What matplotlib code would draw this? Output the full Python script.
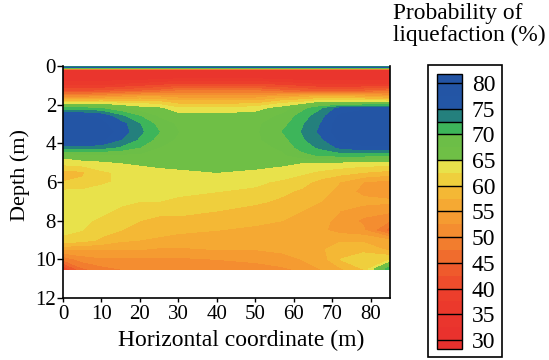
import numpy as np
import matplotlib
matplotlib.use("Agg")
import matplotlib.pyplot as plt
from matplotlib.patches import Rectangle

plt.rcParams['font.family'] = ['Liberation Serif', 'DejaVu Serif']

# horizontal positions (m) and depths (m) of the sampled grid
x_pos = [0, 5, 10, 15, 20, 25, 30, 40, 50, 57, 62, 67, 72, 78, 85]
depths = [0, 0.08, 0.2, 0.6, 1.0, 1.3, 1.6, 1.9, 2.2, 2.6, 3.0, 3.4, 3.8, 4.2,
          4.6, 5.0, 5.5, 6.0, 6.5, 7.0, 7.5, 8.0, 8.5, 9.0, 9.5, 10.0, 10.5]

# probability of liquefaction (%), one row per depth
prob = [
    [61, 61, 61, 61, 61, 61, 61, 61, 61, 61, 61, 61, 61, 61, 61],
    [79, 79, 79, 79, 79, 79, 79, 79, 79, 79, 79, 79, 79, 79, 79],
    [33, 33, 33, 33, 33, 33, 33, 33, 33, 33, 33, 33, 33, 33, 33],
    [33, 33, 33, 33, 33, 33, 34, 34, 34, 33, 33, 33, 33, 33, 33],
    [37, 37, 37, 38, 39, 40, 41, 41, 41, 40, 39, 38, 38, 38, 38],
    [42, 42, 43, 44, 45, 46, 48, 48, 48, 46, 45, 44, 44, 45, 47],
    [52, 52, 53, 54, 55, 55, 54, 54, 54, 56, 57, 58, 58, 57, 55],
    [63, 63, 63, 62, 62, 61, 59, 59, 59, 62, 63, 65.5, 65.5, 65.5, 65.5],
    [71, 71, 70, 68, 66, 65.5, 63, 63, 64, 66, 69, 72, 76, 77, 77],
    [78, 78, 77, 73, 70, 67, 66, 66, 66, 68, 71, 74, 78, 79, 79],
    [80, 80, 78, 76, 72.5, 69, 67, 67, 67, 69, 72, 75, 79, 80, 80],
    [80, 80, 79, 76.5, 73, 70, 67.5, 67, 67, 70, 72.5, 75.5, 79, 80, 80],
    [79, 79, 78, 75, 72, 69, 67, 67, 67, 69, 72, 74.5, 78, 79, 79],
    [74, 74, 73.5, 72, 70, 67.5, 66.5, 66.5, 66.5, 68, 71, 73, 75.5, 77, 77],
    [66, 67, 67, 67, 67, 67, 66.5, 66.5, 66.5, 67, 69, 70.5, 71, 71, 70.5],
    [63.5, 64, 64.5, 65, 65.5, 66, 66, 66, 66, 65.5, 65, 64.5, 64.5, 64, 64],
    [59, 59.5, 62, 63, 63.5, 64, 64.5, 65, 64.5, 64, 63, 62, 61, 60, 59],
    [60, 60.5, 62, 63, 63.5, 63.5, 63.5, 63.5, 63, 62, 61, 59, 57.5, 55, 54],
    [63, 63, 63.5, 63.5, 63, 63, 63, 62.5, 62, 60.5, 59.5, 58, 57, 54, 53],
    [63.5, 63.5, 63, 63, 62.5, 62.5, 62, 61.5, 60.5, 59.5, 58.5, 57.5, 57, 56, 55.5],
    [63, 63, 63, 62, 61, 60.5, 60.5, 60, 59, 58, 57.5, 56.5, 55, 53.5, 53],
    [63, 63, 62, 61, 60, 59.5, 59.5, 59, 58, 57.5, 57, 56, 54, 52, 50],
    [63, 62.5, 61, 60, 59.5, 58.5, 58, 57.5, 57, 56.5, 56, 55.5, 54, 53, 46],
    [62, 61, 59.5, 58, 57.5, 57, 56.5, 56, 56, 56, 56, 56, 57, 57, 55],
    [55, 55, 55, 55, 55, 54.5, 54.5, 55, 55, 55.5, 56, 57, 59, 59, 57],
    [48, 51, 52, 52, 52, 52, 52, 52.5, 53, 54, 55, 56, 60, 62, 62],
    [40, 47, 49, 50, 50, 50.5, 50.5, 51, 51.5, 52, 53, 55, 57, 60, 72],
]

# contour levels and the colour of each band
levels = [28.25, 30, 32.5, 35, 37.5, 40, 42.5, 45, 47.5, 50, 52.5, 55, 57.5,
          60, 62.5, 65, 67.5, 70, 72.5, 75, 77.5, 80, 81.75]
band_colors = ['#e8302d', '#e9322d', '#ea352d', '#eb392c', '#ec3e2c',
               '#ee4d2c', '#ef5a2c', '#f06c2d', '#f27d2e', '#f48d30',
               '#f59b31', '#f5a933', '#f4b835', '#efcf3d', '#e8e24b',
               '#6fbf46', '#6cbe47', '#3db55a', '#24807d', '#2356a6',
               '#2355a5', '#2354a4']
cbar_ticks = [30, 35, 40, 45, 50, 55, 60, 65, 70, 75, 80]
cbar_lines = cbar_ticks + [72.5]

fig = plt.figure(figsize=(5.49, 3.6), dpi=100)
ax = fig.add_axes([0.1148, 0.1722, 0.5956, 0.6445])

X, Y = np.meshgrid(x_pos, depths)
cf = ax.contourf(X, Y, np.array(prob), levels=levels, colors=band_colors)

ax.set_xlim(0, 85)
ax.set_ylim(12, 0)
ax.set_xticks(range(0, 81, 10))
ax.set_yticks(range(0, 13, 2))
ax.spines['top'].set_visible(False)
for s in ['left', 'bottom', 'right']:
    ax.spines[s].set_linewidth(1.2)
ax.tick_params(axis='y', direction='out', length=4, width=1, pad=1, labelsize=15)
ax.tick_params(axis='x', direction='out', length=3, width=1, pad=2, labelsize=15)

ax.set_xlabel("Horizontal coordinate (m)", fontsize=17)
ax.xaxis.set_label_coords(0.544, -0.185)
ax.xaxis.label.set_va('center')
ax.set_ylabel("Depth (m)", fontsize=16)
ax.yaxis.set_label_coords(-0.131, 0.53)
ax.yaxis.label.set_va('center')

# colour bar
cax = fig.add_axes([0.796, 0.0306, 0.0455, 0.7639])
cbar = fig.colorbar(cf, cax=cax, spacing='proportional')
cbar.set_ticks(cbar_ticks)
cbar.ax.tick_params(length=0, pad=7, labelsize=17)
cbar.outline.set_linewidth(1)
for v in cbar_lines:
    cax.axhline(v, color='black', lw=1)

# frame around colour bar
fig.patches.append(Rectangle((0.7796, 0.0083), 0.1348, 0.811, transform=fig.transFigure,
                             fill=False, edgecolor='black', lw=1.2))

fig.text(393 / 549, 1 - 3 / 360, "Probability of\nliquefaction (%)", ha='left', va='top',
         fontsize=16.8, linespacing=1.05)

fig.savefig("out.png", dpi=100)
